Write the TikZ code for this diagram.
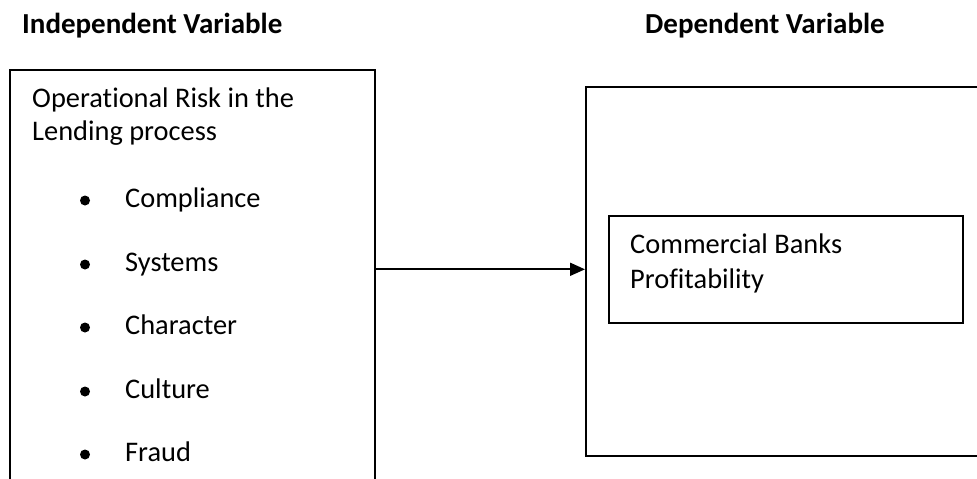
\documentclass[tikz,border=0pt]{standalone}
\usepackage{fontspec}
\setmainfont{Carlito}[RawFeature=-liga]
\usetikzlibrary{arrows.meta}
\begin{document}
\begin{tikzpicture}[x=1pt,y=-1pt,
  frame/.style={draw=black,line width=1.6pt,rectangle,inner sep=0pt,anchor=north west},
  lbl/.style={anchor=base west,inner sep=0pt,font=\fontsize{28.4}{32}\selectfont},
  head/.style={anchor=base west,inner sep=0pt,font=\bfseries\fontsize{29}{33}\selectfont},
  dot/.style={circle,fill=black,inner sep=0pt,minimum size=10pt},
  arrow/.style={line width=1.8pt,-{Triangle[length=15pt,width=13pt]}}]
\clip (0,0) rectangle (977,479);
\fill[white] (0,0) rectangle (977,479);
\node[head] (hind) at (22,33) {Independent Variable};
\node[head] (hdep) at (645,33) {Dependent Variable};
\node[frame,minimum width=365pt,minimum height=451pt] (leftbox) at (9,69) {};
\node[frame,minimum width=430pt,minimum height=369pt] (rightbox) at (585,86) {};
\node[frame,minimum width=354pt,minimum height=107pt] (inner) at (608,215) {};
\node[lbl] (t1) at (32,107) {Operational Risk in the};
\node[lbl] (t2) at (32,140) {Lending process};
\foreach \i/\w/\y in {1/Compliance/207,2/Systems/271,3/Character/334,4/Culture/398,5/Fraud/461}{
  \node[dot] (b\i) at (85,\y-6.5) {};
  \node[lbl] (w\i) at (125,\y) {\w};
}
\node[lbl] (c1) at (630,253) {Commercial Banks};
\node[lbl] (c2) at (630,288) {Profitability};
\draw[arrow] (leftbox.east |- inner.west) -- (rightbox.west |- inner.west);
\end{tikzpicture}
\end{document}
